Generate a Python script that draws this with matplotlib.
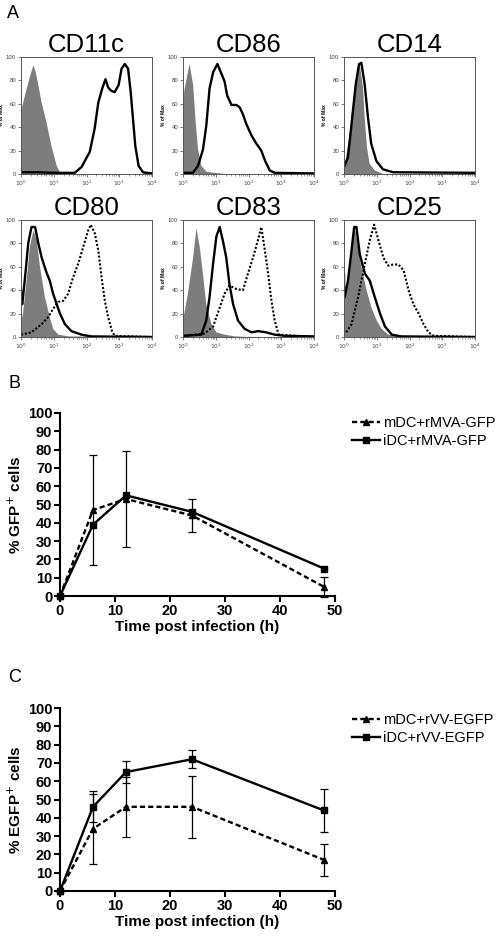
import numpy as np
import matplotlib
matplotlib.use('Agg')
import matplotlib.pyplot as plt
from matplotlib.ticker import LogLocator, NullFormatter

plt.rcParams['font.family'] = ['Liberation Sans', 'DejaVu Sans']

# ---- panel A: flow histograms (x = log10 fluorescence, y = % of max) ----
markers = ['CD11c', 'CD86', 'CD14', 'CD80', 'CD83', 'CD25']

cd11c_iso_x = [0, 0.12, 0.27, 0.38, 0.45, 0.53, 0.63, 0.78, 0.93, 1.09, 1.19, 1.3, 4]
cd11c_iso_y = [53, 67, 83, 93, 87, 76, 61, 44, 24, 7, 1.5, 0, 0]
cd11c_x = [0, 0.5, 1.0, 1.64, 1.85, 2.1, 2.25, 2.36, 2.48, 2.58, 2.66, 2.76, 2.86, 2.98,
           3.07, 3.17, 3.27, 3.35, 3.42, 3.49, 3.59, 3.73, 4]
cd11c_y = [1.5, 1.5, 1, 1, 6, 19, 39, 61, 73, 81, 74, 71, 70, 76, 90, 94, 90, 70, 47, 24, 7, 1.4, 0.5]

cd86_iso_x = [0, 0.05, 0.2, 0.31, 0.38, 0.46, 0.56, 0.71, 0.95, 1.3, 4]
cd86_iso_y = [61, 73, 94, 76, 47, 21, 7, 2, 1, 0, 0]
cd86_x = [0, 0.3, 0.46, 0.61, 0.71, 0.81, 0.92, 1.05, 1.17, 1.27, 1.35, 1.48, 1.63, 1.73, 1.83,
          1.93, 2.09, 2.24, 2.39, 2.51, 2.65, 2.8, 4]
cd86_y = [1, 1, 7, 21, 41, 73, 87, 94, 86, 79, 67, 59, 59, 57, 51, 43, 33, 26, 20, 11, 3, 1, 0.5]

cd14_iso_x = [0, 0.17, 0.33, 0.43, 0.48, 0.58, 0.63, 0.7, 0.78, 0.94, 1.2, 4]
cd14_iso_y = [3, 34, 74, 91, 94, 74, 49, 23, 9, 3, 0, 0]
cd14_x = [0, 0.12, 0.22, 0.36, 0.46, 0.53, 0.63, 0.73, 0.83, 0.99, 1.19, 1.5, 4]
cd14_y = [6, 14, 40, 77, 94, 95, 77, 49, 26, 11, 4, 1.5, 1]

cd80_iso_x = [0, 0.07, 0.17, 0.27, 0.38, 0.48, 0.58, 0.73, 0.88, 0.98, 1.14, 1.45, 4]
cd80_iso_y = [11, 22, 48, 77, 91, 83, 60, 34, 17, 7, 2, 0.5, 0]
cd80_x = [0, 0.005, 0.04, 0.12, 0.22, 0.32, 0.43, 0.53, 0.63, 0.78, 0.88, 0.98, 1.09, 1.19,
          1.34, 1.54, 1.85, 2.15, 4]
cd80_y = [40, 30, 28, 50, 80, 94, 94, 80, 68, 55, 48, 37, 28, 20, 11, 5, 2, 0.5, 0]
cd80_mat_x = [0, 0.32, 0.63, 0.83, 0.98, 1.14, 1.29, 1.44, 1.59, 1.75, 1.9, 2.05, 2.13, 2.25,
              2.36, 2.46, 2.56, 2.66, 2.78, 2.86, 4]
cd80_mat_y = [2, 4, 11, 17, 24, 30, 31, 37, 51, 63, 77, 91, 96, 89, 74, 51, 31, 17, 5, 1, 0]

cd83_iso_x = [0, 0.15, 0.31, 0.41, 0.51, 0.61, 0.71, 0.87, 1.02, 1.27, 1.58, 2, 4]
cd83_iso_y = [14, 37, 68, 93, 77, 54, 28, 11, 4, 2, 0.5, 0, 0]
cd83_x = [0, 0.56, 0.71, 0.81, 0.92, 1.02, 1.12, 1.22, 1.32, 1.42, 1.53, 1.68, 1.88, 2.09,
          2.29, 2.54, 2.8, 3.1, 4]
cd83_y = [1, 2, 14, 34, 63, 86, 94, 82, 68, 45, 28, 14, 7, 4, 5, 4, 2, 1, 0.5]
cd83_mat_x = [0, 0.66, 0.92, 1.12, 1.27, 1.42, 1.63, 1.83, 1.98, 2.14, 2.29, 2.39, 2.49, 2.6,
              2.7, 2.8, 2.92, 4]
cd83_mat_y = [1, 3, 9, 25, 37, 44, 41, 40, 54, 68, 83, 94, 76, 54, 31, 14, 2, 0]

cd25_iso_x = [0, 0.12, 0.23, 0.33, 0.43, 0.53, 0.69, 0.84, 1.0, 1.15, 1.35, 1.75, 4]
cd25_iso_y = [28, 48, 74, 94, 77, 60, 40, 25, 14, 7, 2, 0.5, 0]
cd25_x = [0, 0.005, 0.02, 0.12, 0.23, 0.31, 0.38, 0.48, 0.64, 0.79, 0.94, 1.1, 1.25, 1.46, 1.75, 4]
cd25_y = [54, 40, 34, 48, 74, 94, 94, 71, 54, 48, 34, 20, 9, 2, 0.5, 0]
cd25_mat_x = [0.07, 0.23, 0.43, 0.64, 0.79, 0.92, 1.05, 1.2, 1.35, 1.51, 1.66, 1.82, 1.97, 2.12,
              2.28, 2.43, 2.58, 2.74, 4]
cd25_mat_y = [4, 11, 34, 63, 83, 96, 83, 68, 61, 62, 62, 57, 40, 28, 20, 11, 4, 1, 0]

hist_tick_labels = [r'$10^{0}$', r'$10^{1}$', r'$10^{2}$', r'$10^{3}$', r'$10^{4}$']

# ---- panels B and C: % positive cells over time ----
time_h = [0, 6, 12, 24, 48]
b_mdc = [0, 47, 53, 44, 5]
b_mdc_err = [0, 30, 26, 9, 5.5]
b_idc = [0, 39, 55, 46, 15]
c_mdc = [0, 34, 46, 46, 17]
c_mdc_err = [0, 19, 16.5, 17, 8.7]
c_idc = [0, 46, 65, 72, 44]
c_idc_err = [0, 8.5, 6, 5, 11.5]
b_labels = ['mDC+rMVA-GFP', 'iDC+rMVA-GFP']
c_labels = ['mDC+rVV-EGFP', 'iDC+rVV-EGFP']

fig = plt.figure(figsize=(5, 9.36), dpi=100)


def px_axes(x, y, w, h):
    return fig.add_axes([x / 500, 1 - (y + h) / 936, w / 500, h / 936])


hist = {
    'CD11c': ((cd11c_iso_x, cd11c_iso_y), (cd11c_x, cd11c_y), None),
    'CD86': ((cd86_iso_x, cd86_iso_y), (cd86_x, cd86_y), None),
    'CD14': ((cd14_iso_x, cd14_iso_y), (cd14_x, cd14_y), None),
    'CD80': ((cd80_iso_x, cd80_iso_y), (cd80_x, cd80_y), (cd80_mat_x, cd80_mat_y)),
    'CD83': ((cd83_iso_x, cd83_iso_y), (cd83_x, cd83_y), (cd83_mat_x, cd83_mat_y)),
    'CD25': ((cd25_iso_x, cd25_iso_y), (cd25_x, cd25_y), (cd25_mat_x, cd25_mat_y)),
}
hist_pos = [(21, 57), (183, 57), (344, 57), (21, 220), (183, 220), (344, 220)]

for name, (x0, y0) in zip(markers, hist_pos):
    ax = px_axes(x0, y0, 131, 117)
    iso, solid, dotted = hist[name]
    ax.fill_between(np.power(10.0, iso[0]), iso[1], 0, facecolor='#7d7d7d', linewidth=0)
    ax.plot(np.power(10.0, solid[0]), solid[1], color='black', lw=1.7, solid_joinstyle='round')
    if dotted is not None:
        ax.plot(np.power(10.0, dotted[0]), dotted[1], color='black', lw=1.5, dashes=(1.0, 0.9))
    ax.set_xscale('log')
    ax.set_xlim(1, 1e4)
    ax.set_ylim(0, 100)
    ax.set_xticks([1, 10, 100, 1000, 10000])
    ax.set_xticklabels(hist_tick_labels)
    ax.xaxis.set_minor_locator(LogLocator(base=10, subs=np.arange(2, 10) * 1.0, numticks=20))
    ax.xaxis.set_minor_formatter(NullFormatter())
    ax.set_yticks(range(0, 101, 20))
    ax.tick_params(which='major', length=2.5, width=0.5, labelsize=4.3, pad=1, colors='#444444')
    ax.tick_params(which='minor', length=1.3, width=0.4, colors='#444444')
    for s in ax.spines.values():
        s.set_linewidth(0.7)
        s.set_color('#555555')
    ax.set_ylabel('% of Max', fontsize=3.6, fontweight='bold', labelpad=1.5)
    ax.set_title(name, fontsize=18.5, pad=3)

fig.text(0.026, 0.986, 'A', fontsize=13, ha='center', va='center')
fig.text(0.03, 1 - 384 / 936, 'B', fontsize=13, ha='center', va='center')
fig.text(0.03, 1 - 678 / 936, 'C', fontsize=13, ha='center', va='center')


def line_panel(y_top, mdc, mdc_err, idc, idc_err, labels, ylabel, leg_y):
    ax = px_axes(60, y_top, 275, 183)
    ax.errorbar(time_h, mdc, yerr=mdc_err, fmt='none', ecolor='black', elinewidth=0.9,
                capsize=3.2, capthick=0.9, clip_on=False)
    if idc_err is not None:
        ax.errorbar(time_h, idc, yerr=idc_err, fmt='none', ecolor='black', elinewidth=0.9,
                    capsize=3.2, capthick=0.9, clip_on=False)
    l1, = ax.plot(time_h, mdc, color='black', lw=1.7, dashes=(2.2, 1.3), marker='^', ms=5,
                  clip_on=False, label=labels[0])
    l2, = ax.plot(time_h, idc, color='black', lw=1.7, marker='s', ms=4.8,
                  clip_on=False, label=labels[1])
    ax.set_xlim(0, 50)
    ax.set_ylim(0, 100)
    ax.set_xticks(range(0, 51, 10))
    ax.set_yticks(range(0, 101, 10))
    for s in ['top', 'right']:
        ax.spines[s].set_visible(False)
    for s in ['left', 'bottom']:
        ax.spines[s].set_linewidth(1.5)
    ax.tick_params(length=4, width=1.5, labelsize=10.5, pad=1.5)
    for t in ax.get_xticklabels() + ax.get_yticklabels():
        t.set_fontweight('bold')
    ax.set_xlabel('Time post infection (h)', fontsize=11, fontweight='bold', labelpad=2)
    ax.set_ylabel(ylabel, fontsize=11, fontweight='bold', labelpad=3)
    ax.legend(handles=[l1, l2], loc='upper left', bbox_to_anchor=(352 / 500, 1 - leg_y / 936),
              bbox_transform=fig.transFigure, frameon=False, fontsize=10.5, handlelength=1.9,
              handletextpad=0.2, borderaxespad=0, borderpad=0, labelspacing=0.3)
    return ax


line_panel(413, b_mdc, b_mdc_err, b_idc, None, b_labels, r'% GFP$^{+}$ cells', 416)
line_panel(708, c_mdc, c_mdc_err, c_idc, c_idc_err, c_labels, r'% EGFP$^{+}$ cells', 713)

fig.savefig('out.png', dpi=100)
